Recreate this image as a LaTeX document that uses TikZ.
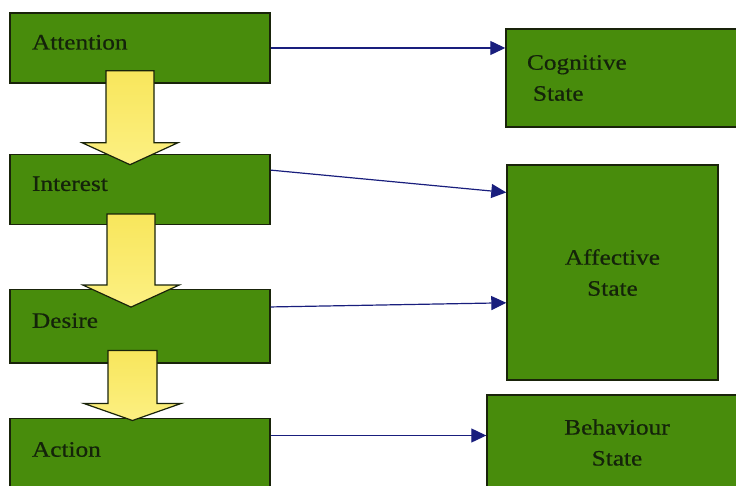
\documentclass[tikz,border=0pt]{standalone}
\usepackage{fontspec}
\setmainfont{Liberation Serif}[FakeStretch=1.15,FakeBold=0.6]
\usetikzlibrary{positioning,calc,arrows.meta}

\definecolor{boxgreen}{RGB}{72,140,12}
\definecolor{boxline}{RGB}{25,35,10}
\definecolor{boxtext}{RGB}{20,35,10}
\definecolor{linkblue}{RGB}{25,30,125}
\definecolor{flowyellow}{RGB}{248,230,92}
\definecolor{flowpale}{RGB}{252,240,130}

\begin{document}
\begin{tikzpicture}[
    x=1pt,
    y=-1pt,
    font=\fontsize{22}{31}\selectfont,
    box/.style={
        draw=boxline,
        line width=1.4pt,
        fill=boxgreen,
        text=boxtext
    },
    stagebox/.style={
        box,
        inner xsep=22pt,
        text width=216pt,
        align=left,
        minimum height=70pt,
        text height=16pt,
        text depth=13pt
    },
    statebox/.style={box, inner sep=0pt, align=center},
    link/.style={-{Triangle[length=15pt,width=14pt]}, draw=linkblue, line width=1.2pt},
    flow/.style={draw=boxline, line width=1.2pt, top color=flowyellow, bottom color=flowpale}
]

\clip (0,0) rectangle (736,486);

% ============================================================
% STAGES (AIDA)
% ============================================================
\node[stagebox] (att) at (140,48) {Attention};
\node[stagebox, below=70pt of att] (int) {Interest};
\node[stagebox, below=64pt of int, minimum height=73pt] (des) {Desire};
\node[stagebox, below=54pt of des, minimum height=74pt] (act) {Action};

% ============================================================
% STATES
% ============================================================
\node[statebox, minimum width=242pt, minimum height=98pt,
      inner xsep=21pt, text width=200pt, align=left] (cog) at (627,78)
      {Cognitive\\\hspace*{6pt}State};
\node[statebox, minimum width=211pt, minimum height=215pt] (aff) at (612.5,272.5)
      {Affective\\State};
\node[statebox, minimum width=260pt, minimum height=95pt] (beh) at (617,442.5)
      {Behaviour\\State};

% ============================================================
% LINKS
% ============================================================
\draw[link] (att.east) -- (att.east -| cog.west);
\draw[link] ($(int.north east)!0.23!(int.south east)$) -- ($(aff.north west)!0.13!(aff.south west)$);
\draw[link] ($(des.north east)!0.24!(des.south east)$) -- ($(aff.north west)!0.64!(aff.south west)$);
\draw[link] ([yshift=-18pt]act.north east) -- ([yshift=-18pt]act.north east -| beh.west);

% ============================================================
% FLOW ARROWS
% ============================================================
\draw[flow] ($(att.south)+(-34,-13)$) -- ($(int.north)+(-34,-11)$) -- ++(-24,0)
    -- ($(int.north)+(-10,11)$) -- ($(int.north)+(38,-11)$) -- ++(-24,0)
    -- ($(att.south)+(14,-13)$) -- cycle;
\draw[flow] ($(int.south)+(-33,-11)$) -- ($(des.north)+(-33,-4)$) -- ++(-24,0)
    -- ($(des.north)+(-9,18)$) -- ($(des.north)+(39,-4)$) -- ++(-24,0)
    -- ($(int.south)+(15,-11)$) -- cycle;
\draw[flow] ($(des.south)+(-32,-13)$) -- ($(act.north)+(-32,-14)$) -- ++(-24,0)
    -- ($(act.north)+(-7.5,3)$) -- ($(act.north)+(41,-14)$) -- ++(-24,0)
    -- ($(des.south)+(17,-13)$) -- cycle;

\end{tikzpicture}
\end{document}
